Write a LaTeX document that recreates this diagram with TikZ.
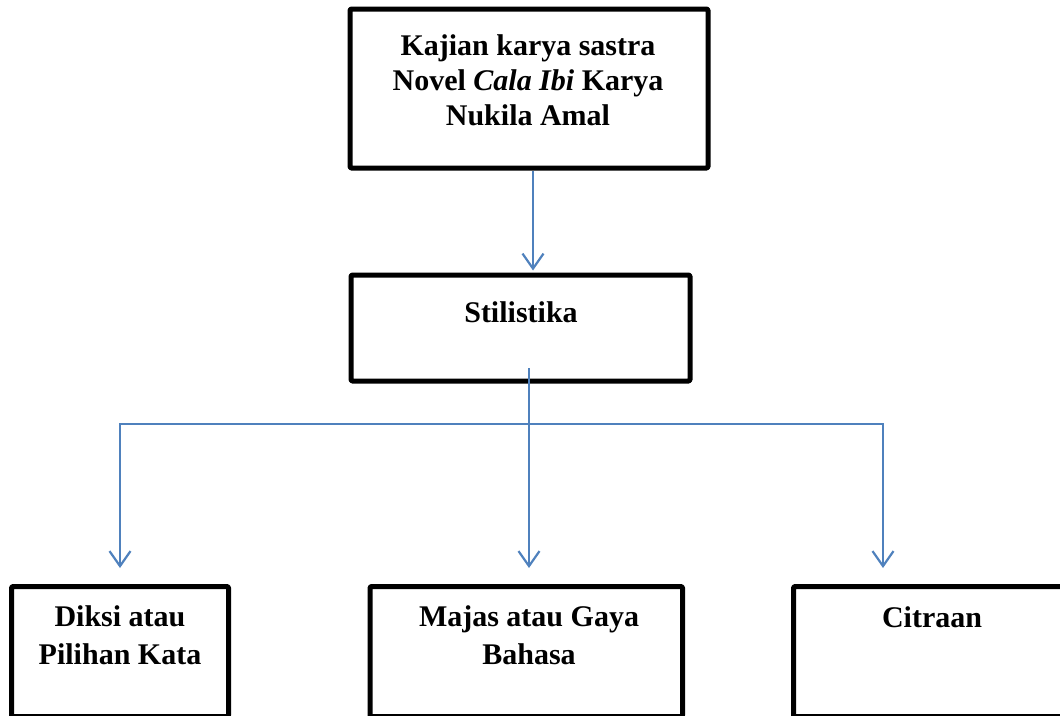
\documentclass[tikz,border=0pt]{standalone}
\usepackage{fontspec}
\setmainfont{Liberation Serif}
\usetikzlibrary{arrows.meta}
\definecolor{lineblue}{RGB}{79,129,189}
\begin{document}
\begin{tikzpicture}[x=1pt,y=-1pt,
  box/.style={draw=black, line width=5pt, line join=round, rounded corners=1.2pt, inner sep=0pt},
  lbl/.style={font=\bfseries\fontsize{30}{35}\selectfont, align=center, inner sep=0pt, anchor=north},
  lblb/.style={font=\bfseries\fontsize{30}{38}\selectfont, align=center, inner sep=0pt, anchor=north},
  conn/.style={draw=lineblue, line width=2.2pt},
  arr/.style={conn, -{Straight Barb[length=15pt,width=21pt]}}
]
\useasboundingbox (0,0) rectangle (1060,715);
\clip (0,0) rectangle (1060,715);
% boxes
\node[box, minimum width=358pt, minimum height=159pt] (top) at (529,88.5) {};
\node[box, minimum width=339pt, minimum height=106pt] (stil) at (520.5,328) {};
\node[box, minimum width=217pt, minimum height=130pt] (diksi) at (120,651.5) {};
\node[box, minimum width=312.5pt, minimum height=130pt] (majas) at (526.25,651.5) {};
\node[box, minimum width=277.5pt, minimum height=130pt] (citra) at (932.25,651.5) {};
% labels
\node[lbl] (ttop) at (528,34.5) {Kajian karya sastra\\Novel \textit{Cala Ibi} Karya\\Nukila Amal};
\node[lbl] (tstil) at (521,301.5) {Stilistika};
\node[lblb] (tdiksi) at (120,605.5) {Diksi atau\\Pilihan Kata};
\node[lblb] (tmajas) at (529,605.5) {Majas atau Gaya\\Bahasa};
\node[lblb] (tcitra) at (932,606) {Citraan};
% connectors
\draw[arr] ([xshift=4pt]top.south) -- ([xshift=12.5pt,yshift=2pt]stil.north);
\coordinate (s1) at (529,368);
\coordinate (j) at (529,424);
\coordinate (t1) at (120,568);
\coordinate (t2) at (529,568);
\coordinate (t3) at (883,568);
\draw[arr] (j) -| (t1);
\draw[arr] (j) -| (t3);
\draw[arr] (s1) -- (t2);
\end{tikzpicture}
\end{document}
